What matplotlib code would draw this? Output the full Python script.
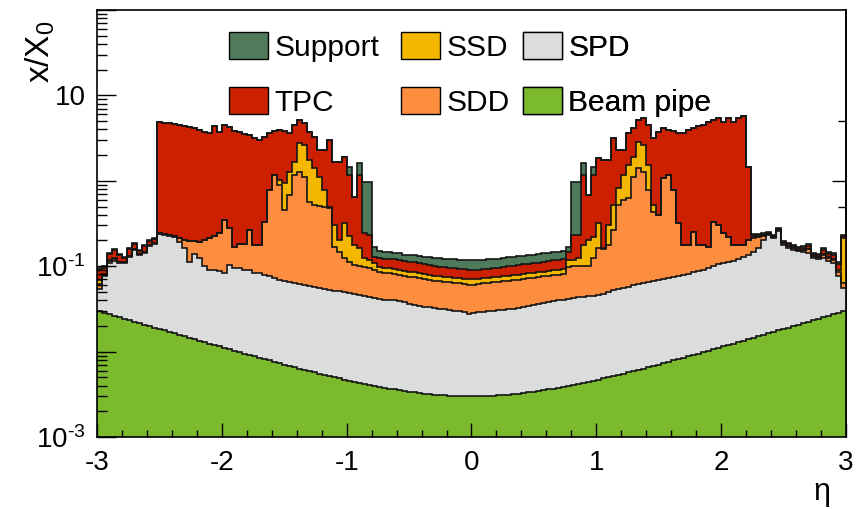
import numpy as np
import matplotlib
matplotlib.use("Agg")
import matplotlib.pyplot as plt
from matplotlib.patches import Patch
from matplotlib.ticker import (FixedLocator, FixedFormatter, LogLocator,
                               NullFormatter, MultipleLocator)

plt.rcParams["font.family"] = ["Liberation Sans", "DejaVu Sans"]
plt.rcParams["mathtext.fontset"] = "custom"
plt.rcParams["mathtext.rm"] = "Liberation Sans"
plt.rcParams["mathtext.it"] = "Liberation Sans:italic"
plt.rcParams["mathtext.sf"] = "Liberation Sans"
plt.rcParams["axes.unicode_minus"] = False

# 150 bins in pseudorapidity, -3 < eta < 3
eta_edges = np.linspace(-3.0, 3.0, 151)

# x/X0 of the beam pipe alone
beam_pipe = [
    0.0296, 0.0285, 0.0273, 0.0263, 0.0253, 0.0243, 0.0233, 0.0224, 0.0215, 0.0207,
    0.0199, 0.0191, 0.0184, 0.0177, 0.0170, 0.0163, 0.0157, 0.0151, 0.0145, 0.0140,
    0.0134, 0.0129, 0.0124, 0.0120, 0.0115, 0.0111, 0.0107, 0.0103, 0.00987, 0.00950,
    0.00915, 0.00881, 0.00848, 0.00817, 0.00788, 0.00759, 0.00732, 0.00706, 0.00681, 0.00657,
    0.00634, 0.00612, 0.00591, 0.00571, 0.00552, 0.00534, 0.00517, 0.00501, 0.00485, 0.00470,
    0.00456, 0.00443, 0.00430, 0.00418, 0.00407, 0.00396, 0.00386, 0.00377, 0.00368, 0.00360,
    0.00352, 0.00345, 0.00338, 0.00332, 0.00327, 0.00322, 0.00318, 0.00314, 0.00310, 0.00307,
    0.00305, 0.00303, 0.00302, 0.00301, 0.00300,
    0.00300, 0.00301, 0.00302, 0.00303, 0.00305, 0.00307, 0.00310, 0.00314, 0.00318, 0.00322,
    0.00327, 0.00332, 0.00338, 0.00345, 0.00352, 0.00360, 0.00368, 0.00377, 0.00386, 0.00396,
    0.00407, 0.00418, 0.00430, 0.00443, 0.00456, 0.00470, 0.00485, 0.00501, 0.00517, 0.00534,
    0.00552, 0.00571, 0.00591, 0.00612, 0.00634, 0.00657, 0.00681, 0.00706, 0.00732, 0.00759,
    0.00788, 0.00817, 0.00848, 0.00881, 0.00915, 0.00950, 0.00987, 0.0103, 0.0107, 0.0111,
    0.0115, 0.0120, 0.0124, 0.0129, 0.0134, 0.0140, 0.0145, 0.0151, 0.0157, 0.0163,
    0.0170, 0.0177, 0.0184, 0.0191, 0.0199, 0.0207, 0.0215, 0.0224, 0.0233, 0.0243,
    0.0253, 0.0263, 0.0273, 0.0285, 0.0296,
]

# accumulated x/X0 up to and including each detector (stack order, inside out)
upto_spd = [
    0.0538, 0.0764, 0.108, 0.114, 0.108, 0.108, 0.127, 0.154, 0.135, 0.142, 0.171, 0.181,
    0.237, 0.231, 0.224, 0.218, 0.191, 0.162, 0.111, 0.138, 0.124, 0.100, 0.0898, 0.0898,
    0.0874, 0.0828, 0.103, 0.0948, 0.0948, 0.0898, 0.0898, 0.0828, 0.0828, 0.0785, 0.0764, 0.0724,
    0.0686, 0.0668, 0.0650, 0.0633, 0.0616, 0.0599, 0.0584, 0.0568, 0.0553, 0.0538,
    0.0524, 0.0510, 0.0510, 0.0496, 0.0483, 0.0470, 0.0458, 0.0446, 0.0434, 0.0422,
    0.0411, 0.0400, 0.0400, 0.0400, 0.0389, 0.0379, 0.0359, 0.0350, 0.0340, 0.0331,
    0.0331, 0.0322, 0.0314, 0.0314, 0.0306, 0.0297, 0.0297, 0.0290, 0.0274, 0.0282,
    0.0290, 0.0290, 0.0297, 0.0297, 0.0306, 0.0306, 0.0314, 0.0314, 0.0322, 0.0331,
    0.0340, 0.0350, 0.0359, 0.0369, 0.0379, 0.0389, 0.0400, 0.0400,
    0.0411, 0.0422, 0.0434, 0.0434, 0.0446, 0.0446, 0.0458, 0.0470, 0.0496, 0.0524,
    0.0538, 0.0553, 0.0568, 0.0599, 0.0616, 0.0633, 0.0650, 0.0668, 0.0686, 0.0704,
    0.0724, 0.0744, 0.0764, 0.0785, 0.0806, 0.0851, 0.0874, 0.0898, 0.0948, 0.100,
    0.106, 0.108, 0.111, 0.114, 0.121, 0.127, 0.135,
    0.146, 0.162, 0.202, 0.231, 0.213, 0.257, 0.176, 0.162, 0.154, 0.150,
    0.146, 0.142, 0.124, 0.121, 0.124, 0.114, 0.108, 0.0764, 0.0553,
]

upto_sdd = [
    0.0616, 0.0785, 0.114, 0.121, 0.111, 0.111, 0.131, 0.158, 0.138, 0.146, 0.176, 0.186,
    0.243, 0.237, 0.231, 0.224, 0.213, 0.202, 0.196, 0.196, 0.191, 0.202, 0.213, 0.224,
    0.243, 0.345, 0.278, 0.167, 0.181, 0.181, 0.264, 0.176, 0.176, 0.327, 0.775, 1.16,
    0.887, 0.452, 0.678, 1.16, 1.26, 1.10, 0.561, 0.517, 0.503, 0.490,
    0.477, 0.167, 0.146, 0.124, 0.111, 0.103, 0.100, 0.0973, 0.0948, 0.0898,
    0.0851, 0.0828, 0.0828, 0.0806, 0.0785, 0.0764, 0.0744, 0.0744, 0.0724, 0.0704,
    0.0686, 0.0668, 0.0668, 0.0650, 0.0650, 0.0633, 0.0633, 0.0616, 0.0599, 0.0599,
    0.0616, 0.0633, 0.0633, 0.0650, 0.0650, 0.0668, 0.0668, 0.0686, 0.0686, 0.0704,
    0.0724, 0.0724, 0.0744, 0.0764, 0.0764, 0.0785, 0.0785, 0.0806,
    0.0973, 0.100, 0.100, 0.100, 0.100, 0.124, 0.162, 0.158, 0.176, 0.264,
    0.517, 0.592, 0.625, 1.10, 1.40, 1.26, 0.775, 0.429, 0.395, 1.07,
    1.16, 0.775, 0.319, 0.176, 0.176, 0.250, 0.176, 0.176, 0.167, 0.327,
    0.302, 0.243, 0.218, 0.176, 0.176, 0.176, 0.202,
    0.213, 0.218, 0.224, 0.237, 0.218, 0.264, 0.186, 0.171, 0.162, 0.154,
    0.154, 0.158, 0.131, 0.127, 0.135, 0.124, 0.118, 0.0851, 0.0633,
]

upto_ssd = [
    0.0686, 0.0806, 0.118, 0.124, 0.111, 0.111, 0.131, 0.158, 0.138, 0.146, 0.176, 0.186,
    0.243, 0.237, 0.231, 0.224, 0.213, 0.202, 0.196, 0.196, 0.191, 0.202, 0.213, 0.224,
    0.243, 0.345, 0.278, 0.167, 0.181, 0.181, 0.264, 0.176, 0.176, 0.327, 0.775, 1.16,
    1.015, 0.936, 1.26, 1.65, 2.75, 2.61, 1.74, 1.40, 1.10, 0.775,
    0.490, 0.302, 0.202, 0.319, 0.224, 0.176, 0.162, 0.124, 0.118, 0.108,
    0.0973, 0.0948, 0.0948, 0.0922, 0.0898, 0.0874, 0.0851, 0.0851, 0.0828, 0.0806,
    0.0785, 0.0764, 0.0764, 0.0744, 0.0744, 0.0724, 0.0724, 0.0704, 0.0704, 0.0704,
    0.0704, 0.0724, 0.0724, 0.0744, 0.0744, 0.0764, 0.0764, 0.0785, 0.0785, 0.0806,
    0.0828, 0.0828, 0.0851, 0.0851, 0.0874, 0.0898, 0.0898, 0.0922,
    0.118, 0.118, 0.124, 0.176, 0.202, 0.218, 0.319, 0.162, 0.302, 0.517,
    0.818, 1.16, 1.52, 1.89, 2.82, 2.61, 1.52, 0.517, 0.395, 1.07,
    1.16, 0.775, 0.319, 0.176, 0.176, 0.250, 0.176, 0.176, 0.167, 0.327,
    0.302, 0.243, 0.218, 0.176, 0.176, 0.176, 0.202,
    0.218, 0.224, 0.231, 0.237, 0.218, 0.264, 0.186, 0.171, 0.162, 0.154,
    0.154, 0.158, 0.131, 0.127, 0.138, 0.127, 0.121, 0.0898, 0.213,
]

upto_tpc = [
    0.0898, 0.0948, 0.138, 0.154, 0.135, 0.124, 0.158, 0.181, 0.150, 0.171, 0.196, 0.207,
    4.84, 4.71, 4.71, 4.59, 4.46, 4.35, 4.23, 4.12, 3.90, 3.70, 3.60, 4.35,
    3.70, 4.46, 4.23, 3.80, 3.70, 3.50, 3.41, 3.15, 2.98, 3.23, 3.60, 3.80,
    3.90, 3.80, 3.60, 4.46, 5.11, 4.71, 3.70, 3.23, 2.28, 2.28,
    2.98, 1.65, 1.65, 1.89, 1.16, 0.642, 1.16, 0.243, 0.231, 0.127,
    0.124, 0.121, 0.121, 0.121, 0.118, 0.114, 0.111, 0.111, 0.108, 0.106,
    0.103, 0.100, 0.0973, 0.0973, 0.0948, 0.0948, 0.0922, 0.0922, 0.0898, 0.0898,
    0.0898, 0.0922, 0.0922, 0.0948, 0.0948, 0.0973, 0.100, 0.100, 0.103, 0.106,
    0.106, 0.108, 0.108, 0.111, 0.114, 0.118, 0.118, 0.121,
    0.146, 0.231, 0.231, 1.16, 0.678, 1.16, 1.84, 1.74, 1.74, 3.15,
    2.28, 2.28, 3.60, 4.12, 5.11, 5.40, 4.46, 3.15, 3.70, 4.12,
    3.90, 3.80, 3.60, 3.60, 3.90, 4.12, 4.35, 4.46, 4.84, 5.11,
    5.40, 4.84, 5.40, 4.84, 5.40, 5.70, 1.44,
    0.231, 0.231, 0.237, 0.243, 0.224, 0.271, 0.191, 0.181, 0.171, 0.162,
    0.162, 0.171, 0.138, 0.135, 0.154, 0.138, 0.135, 0.106, 0.224,
]

upto_support = [
    0.0948, 0.100, 0.142, 0.158, 0.138, 0.127, 0.162, 0.186, 0.154, 0.176, 0.202, 0.213,
    4.84, 4.71, 4.71, 4.59, 4.46, 4.35, 4.23, 4.12, 3.90, 3.70, 3.60, 4.35,
    3.70, 4.46, 4.23, 3.80, 3.70, 3.50, 3.41, 3.15, 2.98, 3.23, 3.60, 3.80,
    3.90, 3.80, 3.60, 4.46, 5.11, 4.71, 3.70, 3.23, 2.28, 2.28,
    2.98, 1.65, 1.65, 1.89, 1.44, 0.642, 1.60, 0.962, 0.962, 0.167,
    0.150, 0.146, 0.146, 0.142, 0.142, 0.135, 0.135, 0.135, 0.131, 0.127,
    0.127, 0.124, 0.124, 0.121, 0.121, 0.121, 0.118, 0.118, 0.118, 0.118,
    0.118, 0.118, 0.121, 0.121, 0.121, 0.124, 0.127, 0.127, 0.131, 0.131,
    0.135, 0.135, 0.138, 0.142, 0.142, 0.146, 0.146, 0.150,
    0.167, 0.962, 0.962, 1.60, 0.678, 1.44, 1.84, 1.74, 1.74, 3.15,
    2.28, 2.28, 3.60, 4.12, 5.11, 5.40, 4.46, 3.15, 3.70, 4.12,
    3.90, 3.80, 3.60, 3.60, 3.90, 4.12, 4.35, 4.46, 4.84, 5.11,
    5.40, 4.84, 5.40, 4.84, 5.40, 5.70, 1.44,
    0.237, 0.237, 0.243, 0.250, 0.231, 0.278, 0.196, 0.186, 0.176, 0.167,
    0.171, 0.181, 0.142, 0.138, 0.162, 0.146, 0.142, 0.111, 0.231,
]

detectors = ["Support", "TPC", "SSD", "SDD", "SPD", "Beam pipe"]
colors = {
    "Support": "#4f7b5b",
    "TPC": "#cc2000",
    "SSD": "#f3b700",
    "SDD": "#fd8d3f",
    "SPD": "#dbdcdc",
    "Beam pipe": "#7aba2c",
}
levels = {
    "Support": upto_support,
    "TPC": upto_tpc,
    "SSD": upto_ssd,
    "SDD": upto_sdd,
    "SPD": upto_spd,
    "Beam pipe": beam_pipe,
}

fig = plt.figure(figsize=(8.61, 5.09), dpi=100)
ax = fig.add_axes([97 / 861, 72 / 509, 749 / 861, 427 / 509])
ax.set_yscale("log")
ax.set_xlim(-3, 3)
ax.set_ylim(1e-3, 100)

# stacked histogram: outermost layer first, each filled down to the axis
for name in detectors:
    lev = levels[name]
    ax.stairs(lev, eta_edges, baseline=1e-3, fill=True,
              color=colors[name], lw=0, zorder=2)
    ax.stairs(lev, eta_edges, baseline=None, color="#151515",
              lw=1.2, zorder=2.5)

# axes styling
for sp in ax.spines.values():
    sp.set_linewidth(1.2)
    sp.set_zorder(5)

ax.xaxis.set_major_locator(MultipleLocator(1))
ax.xaxis.set_minor_locator(MultipleLocator(0.2))
ax.yaxis.set_major_locator(FixedLocator([1e-3, 1e-2, 1e-1, 1, 10, 100]))
ax.yaxis.set_major_formatter(FixedFormatter(
    ["$10^{\u20103}$", "", "$10^{\u20101}$", "", "10", ""]))
ax.yaxis.set_minor_locator(LogLocator(base=10, subs=np.arange(2, 10), numticks=20))
ax.yaxis.set_minor_formatter(NullFormatter())

ax.tick_params(axis="x", which="major", direction="in", length=10, width=1,
               labelsize=20, pad=9, top=False)
ax.tick_params(axis="x", which="minor", direction="in", length=5, width=1, top=False)
ax.tick_params(axis="y", which="major", direction="in", length=14, width=1,
               labelsize=20, pad=8, right=False)
ax.tick_params(axis="y", which="minor", direction="in", length=7, width=1, right=False)
for t in ax.get_xticklabels() + ax.get_yticklabels():
    t.set_zorder(6)
ax.set_axisbelow(False)

# sparse ticks on the right-hand frame
ax_r = ax.secondary_yaxis("right")
ax_r.yaxis.set_major_locator(FixedLocator([1.0]))
ax_r.yaxis.set_minor_locator(FixedLocator([0.5, 5.0]))
ax_r.yaxis.set_major_formatter(NullFormatter())
ax_r.yaxis.set_minor_formatter(NullFormatter())
ax_r.tick_params(which="major", direction="in", length=10, width=1)
ax_r.tick_params(which="minor", direction="in", length=6, width=1)
ax_r.spines["right"].set_linewidth(1.2)

fig.text(822 / 861, 1 - 492 / 509, "η", fontsize=22, ha="center", va="center")
fig.text(40 / 861, 1 - 20 / 509, r"x/X$_0$", fontsize=24, rotation=90,
         ha="center", va="top")

# legend: three columns of two entries each
legend_cols = [(["Support", "TPC"], 229), (["SSD", "SDD"], 401), (["SPD", "Beam pipe"], 523)]
for names, x_px in legend_cols:
    hs = [Patch(facecolor=colors[n], edgecolor="black", lw=1.0) for n in names]
    leg = ax.legend(hs, names, ncol=1, frameon=False, fontsize=21.5,
                    loc="upper left", bbox_to_anchor=(x_px / 861, 1 - 32 / 509),
                    bbox_transform=fig.transFigure, borderpad=0, borderaxespad=0,
                    handlelength=1.3, handleheight=1.0, handletextpad=0.22,
                    labelspacing=0.85)
    ax.add_artist(leg)

fig.savefig("out.png", dpi=100)
